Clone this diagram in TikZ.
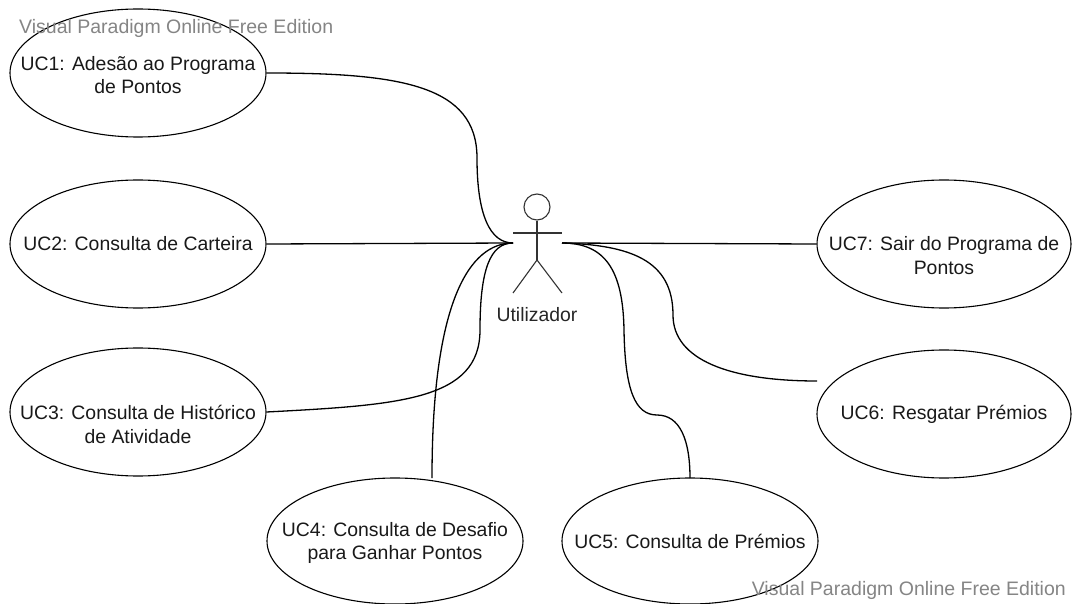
\documentclass[tikz,border=0pt]{standalone}
\usepackage{fontspec}
\setmainfont{Liberation Sans}
\usetikzlibrary{shapes.geometric}
\tikzset{
  usecase/.style={draw=black,ellipse,line width=1.1pt,minimum width=256pt,minimum height=128pt,inner xsep=-70pt,inner ysep=-35pt,align=center,font=\fontsize{19.4}{23.5}\selectfont,text=black!90},
  link/.style={draw=black,line width=1.3pt},
  limb/.style={draw=black!80,line width=1.1pt},
  watermark/.style={text=black!48,font=\fontsize{19.5}{22}\selectfont,inner sep=0pt}
}
\begin{document}
\begin{tikzpicture}[x=1pt,y=-1pt]
\useasboundingbox (0,0) rectangle (1072,604);
\fill[white] (0,0) rectangle (1072,604);
\node[usecase] (uc1) at (138,73) {\rule{0pt}{18pt}UC1: Adesão ao Programa\\de Pontos};
\node[usecase] (uc2) at (138,244) {UC2: Consulta de Carteira};
\node[usecase] (uc3) at (138,412) {\rule{0pt}{16pt}\\UC3: Consulta de Histórico\\de Atividade};
\node[usecase,minimum height=126pt] (uc4) at (395,541) {\rule{0pt}{18pt}UC4: Consulta de Desafio\\para Ganhar Pontos};
\node[usecase,minimum height=126pt] (uc5) at (690,541) {UC5: Consulta de Prémios};
\node[usecase,minimum width=254pt] (uc6) at (944,414) {UC6: Resgatar Prémios};
\node[usecase,minimum width=254pt] (uc7) at (944,244) {\rule{0pt}{14pt}\\UC7: Sair do Programa de\\Pontos};
\node[draw=black!80,circle,line width=1.1pt,minimum size=26pt,inner sep=0pt] (head) at (537,207) {};
\coordinate (neck) at (537,260);
\coordinate (armL) at (513,233);
\coordinate (armR) at (562,233);
\coordinate (legL) at (513,293);
\coordinate (legR) at (562,293);
\coordinate (actorL) at (513,243);
\coordinate (actorR) at (562,243);
\coordinate (endfour) at (432,478);
\coordinate (endfive) at (690,478);
\coordinate (endsix) at (817,381);
\draw[limb] (head.south) -- (neck);
\draw[limb] (armL) -- (armR);
\draw[limb] (legL) -- (neck) -- (legR);
\node[font=\fontsize{19.4}{23}\selectfont,text=black!85,inner sep=0pt] (actorlabel) at (537,315) {Utilizador};
\draw[link] (uc1.east) .. controls (400,73) and (477,85) .. (477,158) .. controls (477,215) and (490,243) .. (actorL);
\draw[link] (uc2.east) -- (actorL);
\draw[link] (uc3.east) .. controls (400,405) and (480,400) .. (480,330) .. controls (480,270) and (490,243) .. (actorL);
\draw[link] (endfour) .. controls (432,300) and (470,243) .. (actorL);
\draw[link] (actorR) .. controls (605,243) and (623,270) .. (624,330) .. controls (625,390) and (635,415) .. (657,415) .. controls (680,415) and (690,440) .. (endfive);
\draw[link] (actorR) .. controls (630,245) and (673,260) .. (673,315) .. controls (673,360) and (730,381) .. (endsix);
\draw[link] (actorR) -- (uc7.west);
\node[watermark,anchor=west] (wmone) at (19,28) {Visual Paradigm Online Free Edition};
\node[watermark,anchor=east] (wmtwo) at (1066,590) {Visual Paradigm Online Free Edition};
\end{tikzpicture}
\end{document}
